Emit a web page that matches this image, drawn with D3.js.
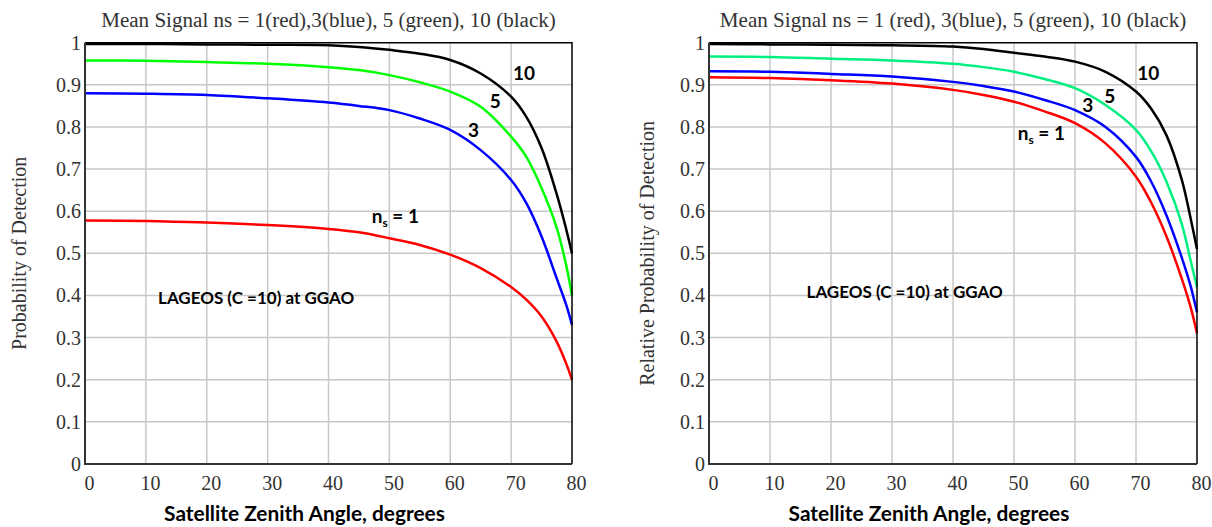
<!DOCTYPE html>
<html>
<head>
<meta charset="utf-8">
<script src="https://cdn.jsdelivr.net/npm/d3@7"></script>
<style>
  body { margin: 0; background: #fff; }
  .tick text { font-family: "Liberation Serif", "Times New Roman", serif; font-size: 20px; fill: #333; }
  .grid line { stroke: #c8c8c8; stroke-width: 1.5; }
  .note { font-family: Lato, "Open Sans", sans-serif; font-weight: bold; font-size: 19px; fill: #000; }
  .serif { font-family: "Liberation Serif", "Times New Roman", serif; font-size: 20px; fill: #333; }
</style>
</head>
<body>
<svg id="chart" width="1212" height="527"></svg>
<script>
// zenith angle samples, degrees
const angles = [0, 10, 20, 30, 40, 45, 50, 55, 60, 65, 70, 72.5, 75, 77.5, 79, 80];

// left panel: probability of detection
const leftRed   = [0.578, 0.577, 0.573, 0.567, 0.558, 0.550, 0.536, 0.520, 0.497, 0.465, 0.420, 0.390, 0.350, 0.290, 0.240, 0.200];
const leftBlue  = [0.880, 0.879, 0.876, 0.868, 0.858, 0.850, 0.840, 0.820, 0.793, 0.745, 0.674, 0.619, 0.540, 0.440, 0.380, 0.330];
const leftGreen = [0.958, 0.957, 0.954, 0.950, 0.942, 0.935, 0.923, 0.906, 0.884, 0.848, 0.777, 0.729, 0.655, 0.560, 0.475, 0.400];
const leftBlack = [0.997, 0.997, 0.996, 0.995, 0.994, 0.990, 0.983, 0.974, 0.959, 0.927, 0.872, 0.824, 0.750, 0.640, 0.560, 0.500];

// right panel: relative probability of detection
const rightRed   = [0.918, 0.916, 0.911, 0.903, 0.888, 0.876, 0.860, 0.837, 0.809, 0.761, 0.682, 0.620, 0.540, 0.440, 0.370, 0.310];
const rightBlue  = [0.932, 0.931, 0.926, 0.920, 0.907, 0.897, 0.884, 0.864, 0.840, 0.800, 0.729, 0.670, 0.590, 0.490, 0.420, 0.360];
const rightGreen = [0.967, 0.966, 0.962, 0.958, 0.950, 0.942, 0.931, 0.914, 0.892, 0.852, 0.793, 0.742, 0.670, 0.570, 0.480, 0.420];
const rightBlack = [0.997, 0.996, 0.995, 0.994, 0.991, 0.985, 0.976, 0.967, 0.955, 0.931, 0.884, 0.843, 0.780, 0.675, 0.580, 0.510];

const xTicks = [0, 10, 20, 30, 40, 50, 60, 70, 80];
const yTicks = [0, 0.1, 0.2, 0.3, 0.4, 0.5, 0.6, 0.7, 0.8, 0.9, 1];

const panels = [
  {
    left: 85, right: 572,
    title: "Mean Signal ns = 1(red),3(blue), 5 (green), 10 (black)", titleW: 455,
    ylabel: "Probability of Detection", ylabelX: 19,
    series: [[leftRed, "#ff0000"], [leftBlue, "#0000ff"], [leftGreen, "#00ff00"], [leftBlack, "#000000"]],
    marks: [["10", 70.3, 0.911], ["5", 66.5, 0.845], ["3", 62.9, 0.776]],
    ns: [47.1, 0.573],
    site: [12, 0.38]
  },
  {
    left: 709, right: 1197,
    title: "Mean Signal ns = 1 (red), 3(blue), 5 (green), 10 (black)", titleW: 467,
    ylabel: "Relative Probability of Detection", ylabelX: 647,
    series: [[rightRed, "#ff0000"], [rightBlue, "#0000ff"], [rightGreen, "#00f07f"], [rightBlack, "#000000"]],
    marks: [["10", 70.2, 0.911], ["5", 64.8, 0.857], ["3", 61.2, 0.836]],
    ns: [50.6, 0.769],
    site: [16, 0.395]
  }
];

const yTop = 42.7, yBottom = 464;
const svg = d3.select("#chart");

// scale a text's font so that it spans the given width
function fitWidth(sel, w) {
  const fs = parseFloat(getComputedStyle(sel.node()).fontSize);
  const len = sel.node().getComputedTextLength();
  sel.style("font-size", (fs * w / len) + "px");
}

panels.forEach(p => {
  const x = d3.scaleLinear().domain([0, 80]).range([p.left, p.right]);
  const y = d3.scaleLinear().domain([0, 1]).range([yBottom, yTop]);
  const g = svg.append("g");

  // grid
  g.append("g").attr("class", "grid")
    .selectAll("line").data(xTicks.slice(1, -1)).enter().append("line")
    .attr("x1", d => x(d)).attr("x2", d => x(d)).attr("y1", yTop).attr("y2", yBottom);
  g.append("g").attr("class", "grid")
    .selectAll("line").data(yTicks.slice(1, -1)).enter().append("line")
    .attr("x1", p.left).attr("x2", p.right).attr("y1", d => y(d)).attr("y2", d => y(d));

  // tick labels
  const xa = g.append("g").attr("transform", `translate(0,${yBottom})`)
    .call(d3.axisBottom(x).tickValues(xTicks).tickSize(0).tickPadding(12).tickFormat(d3.format("d")));
  xa.select(".domain").remove();
  xa.selectAll("text").attr("dx", 4);

  const ya = g.append("g").attr("transform", `translate(${p.left},0)`)
    .call(d3.axisLeft(y).tickValues(yTicks).tickSize(0).tickPadding(4)
      .tickFormat(d => d === 0 || d === 1 ? d3.format("d")(d) : d3.format(".1f")(d)));
  ya.select(".domain").remove();

  // curves
  const line = d3.line().x((d, i) => x(angles[i])).y(d => y(d)).curve(d3.curveCatmullRom.alpha(0.5));
  p.series.forEach(([vals, col]) => {
    g.append("path").datum(vals).attr("d", line)
      .attr("fill", "none").attr("stroke", col).attr("stroke-width", 2.5);
  });

  // frame
  g.append("path")
    .attr("d", `M${p.left},${yTop}H${p.right}V${yBottom}`)
    .attr("fill", "none").attr("stroke", "#000").attr("stroke-width", 1.5);
  g.append("path")
    .attr("d", `M${p.left},${yTop}V${yBottom}H${p.right}`)
    .attr("fill", "none").attr("stroke", "#333").attr("stroke-width", 2);

  // curve labels
  p.marks.forEach(([t, a, v]) => {
    g.append("text").attr("class", "note").attr("x", x(a)).attr("y", y(v)).text(t);
  });
  const ns = g.append("text").attr("class", "note").attr("x", x(p.ns[0])).attr("y", y(p.ns[1]));
  ns.append("tspan").text("n");
  ns.append("tspan").attr("font-size", 12).attr("dy", 4).text("s");
  ns.append("tspan").attr("dy", -4).text(" = 1");

  g.append("text").attr("class", "note").attr("x", x(p.site[0])).attr("y", y(p.site[1]))
    .style("font-size", "17px").text("LAGEOS (C =10) at GGAO");

  // titles
  const t = g.append("text").attr("class", "serif").attr("text-anchor", "middle")
    .attr("x", (p.left + p.right) / 2).attr("y", 27).text(p.title);
  fitWidth(t, p.titleW);
  g.append("text").attr("class", "serif").attr("text-anchor", "middle")
    .attr("transform", `translate(${p.ylabelX},${(yTop + yBottom) / 2}) rotate(-90)`)
    .attr("dy", "0.35em").text(p.ylabel);
  const xl = g.append("text").attr("class", "note").attr("text-anchor", "middle")
    .attr("x", (p.left + p.right) / 2 - 24).attr("y", 521).text("Satellite Zenith Angle, degrees");
  fitWidth(xl, 281);
});
</script>
</body>
</html>
